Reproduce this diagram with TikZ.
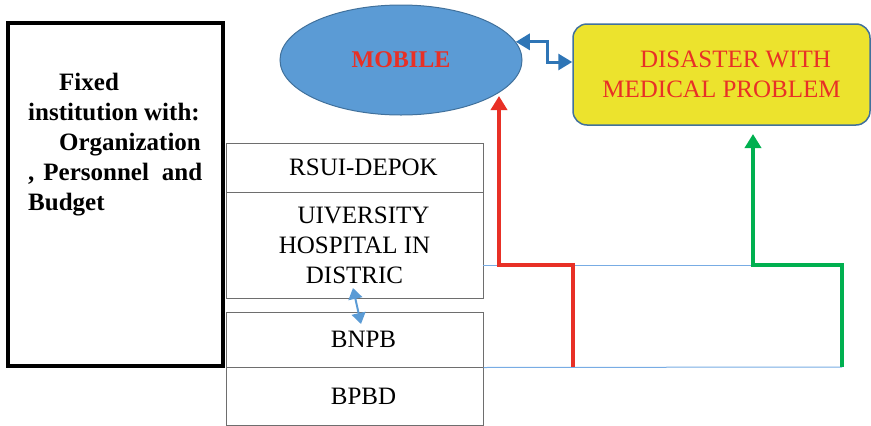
\documentclass[tikz,border=0pt]{standalone}
\usepackage{fontspec}
\setmainfont{Liberation Serif}
\usetikzlibrary{shapes.geometric,arrows.meta}
\definecolor{mobileblue}{RGB}{91,155,213}
\definecolor{edgeblue}{RGB}{65,113,156}
\definecolor{linkblue}{RGB}{46,117,182}
\definecolor{paleblue}{RGB}{120,172,228}
\definecolor{alertred}{RGB}{232,48,38}
\definecolor{alarmyellow}{RGB}{236,227,45}
\definecolor{flowgreen}{RGB}{0,176,80}
\definecolor{boxgray}{RGB}{110,110,110}

\begin{document}
\begin{tikzpicture}[x=1pt,y=-1pt,
  unit/.style={draw=boxgray, line width=1pt, minimum width=257pt, inner sep=0pt,
    font=\fontsize{25}{30}\selectfont, align=center},
  flow/.style={line width=4pt, -{Triangle[length=14pt,width=16pt]}},
  tie/.style={draw=paleblue, line width=1pt}]
\useasboundingbox (0,0) rectangle (871,426);

% institusi tetap
\node[draw, line width=4pt, minimum width=215pt, minimum height=343pt, inner sep=0pt] (fixed) at (115.5,194.5) {};
\node[anchor=north west, inner sep=0pt, align=left, font=\fontsize{25}{30}\selectfont\bfseries] (fixedlbl) at (28,73)
  {\hspace*{31pt}Fixed\\institution with:\\\hspace*{31pt}Organization\\,\hspace{9pt}Personnel\hspace{13pt}and\\Budget};

% unit rumah sakit / BNPB / BPBD
\node[unit, minimum height=49pt] (rsui) at (354.5,167.5) {\hspace*{18pt}RSUI-DEPOK};
\node[unit, minimum height=106pt] (hosp) at (354.5,245) {\hspace*{18pt}UIVERSITY\\HOSPITAL IN\\DISTRIC};
\node[unit, minimum height=55pt] (bnpb) at (354.5,339.5) {\hspace*{18pt}BNPB};
\node[unit, minimum height=58pt] (bpbd) at (354.5,396) {\hspace*{18pt}BPBD};

% mobile dan bencana
\node[ellipse, draw=edgeblue, line width=1pt, fill=mobileblue, minimum width=242pt, minimum height=110pt,
  text=alertred, font=\fontsize{24}{30}\selectfont\bfseries] (mobile) at (401,60) {MOBILE};
\node[draw=edgeblue, line width=1.5pt, fill=alarmyellow, rounded corners=14pt, minimum width=297pt,
  minimum height=101pt, align=center, text=alertred, font=\fontsize{25}{30}\selectfont] (disaster) at (721.5,74.5)
  {\hspace*{28pt}DISASTER WITH\\MEDICAL PROBLEM};

% titik bantu
\coordinate (hl) at (483,265);
\coordinate (gfoot) at (842,367);
\coordinate (rfoot) at (573,367);
\coordinate (rtip) at (499,96);
\coordinate (gtip) at (753,134);
\coordinate (bend) at (547,62);
\coordinate (sa) at (353,288);
\coordinate (sb) at (361,324);

% garis tipis
\draw[tie] (hl) -- (hl -| gfoot);
\draw[tie] (bnpb.south east) -- (gfoot);

% alur
\draw[flow, draw=alertred, -{Triangle[length=14pt,width=16pt,fill=alertred]}] (rfoot) |- (rtip |- hl) -- (rtip);
\draw[flow, draw=flowgreen, -{Triangle[length=14pt,width=16pt,fill=flowgreen]}] (gfoot) |- (gtip |- hl) -- (gtip);
\draw[line width=3pt, draw=linkblue, {Triangle[length=14pt,width=16pt]}-{Triangle[length=14pt,width=16pt]}]
  (mobile.9) -| (bend) -- (bend -| disaster.west);
\draw[line width=2pt, draw=mobileblue, {Triangle[length=11pt,width=14pt]}-{Triangle[length=11pt,width=14pt]}] (sa) -- (sb);
\end{tikzpicture}
\end{document}
